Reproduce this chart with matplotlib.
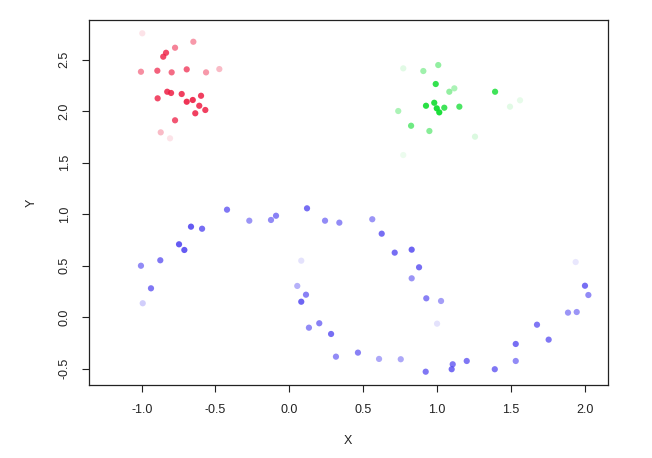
import matplotlib
matplotlib.use("Agg")
import matplotlib.pyplot as plt
import numpy as np

plt.rcParams['font.family'] = ['Liberation Sans', 'DejaVu Sans']

# Red cluster
red_x = [-0.996, -0.650, -0.774, -0.835, -0.854, -1.005, -0.894, -0.797, -0.695, -0.564,
         -0.474, -0.892, -0.827, -0.801, -0.729, -0.695, -0.654, -0.598, -0.610, -0.569,
         -0.637, -0.774, -0.871, -0.808]
red_y = [2.755, 2.673, 2.615, 2.566, 2.528, 2.382, 2.392, 2.376, 2.405, 2.376,
         2.408, 2.124, 2.188, 2.176, 2.166, 2.091, 2.108, 2.149, 2.052, 2.011,
         1.979, 1.911, 1.794, 1.736]
red_a = [0.12, 0.45, 0.55, 0.8, 0.8, 0.5, 0.7, 0.65, 0.7, 0.45,
         0.3, 0.8, 0.85, 0.85, 0.85, 0.9, 0.9, 0.85, 0.85, 0.85,
         0.85, 0.75, 0.3, 0.12]

# Green cluster
green_x = [0.772, 1.009, 0.908, 0.992, 1.084, 1.118, 0.926, 0.982, 1.016, 0.999,
           1.050, 1.152, 0.738, 0.825, 0.949, 1.258, 1.394, 1.495, 1.563, 0.772]
green_y = [2.415, 2.447, 2.389, 2.263, 2.188, 2.221, 2.052, 2.081, 1.988, 2.027,
           2.033, 2.043, 2.001, 1.858, 1.807, 1.752, 2.188, 2.043, 2.105, 1.574]
green_a = [0.12, 0.45, 0.4, 0.85, 0.45, 0.35, 0.9, 0.9, 0.95, 0.95,
           0.8, 0.75, 0.35, 0.6, 0.5, 0.15, 0.8, 0.12, 0.1, 0.08]

# Blue moons
blue_x = [-1.005, -0.937, -0.993, -0.874, -0.747, -0.711, -0.666, -0.591, -0.422, -0.271,
          -0.124, -0.090, 0.120, 0.242, 0.339, 0.081, 0.054, 0.113, 0.081, 0.133,
          0.203, 0.283, 0.316, 0.562, 0.626, 0.714, 0.829, 0.879, 0.829, 0.928,
          1.028, 1.001, 0.465, 0.608, 0.755, 0.924, 1.107, 1.100, 1.202, 1.392,
          1.534, 1.534, 1.678, 1.757, 1.888, 1.947, 2.003, 2.026, 1.940]
blue_y = [0.500, 0.281, 0.136, 0.553, 0.708, 0.653, 0.879, 0.859, 1.044, 0.937,
          0.944, 0.985, 1.057, 0.937, 0.918, 0.549, 0.304, 0.219, 0.151, -0.101,
          -0.058, -0.162, -0.382, 0.951, 0.811, 0.627, 0.656, 0.485, 0.378, 0.184,
          0.158, -0.062, -0.343, -0.404, -0.407, -0.528, -0.456, -0.504, -0.424, -0.504,
          -0.424, -0.259, -0.072, -0.217, 0.045, 0.051, 0.306, 0.216, 0.536]
blue_a = [0.6, 0.7, 0.25, 0.7, 0.85, 0.85, 0.85, 0.75, 0.7, 0.55,
          0.6, 0.65, 0.75, 0.6, 0.6, 0.15, 0.4, 0.65, 0.8, 0.6,
          0.65, 0.75, 0.6, 0.55, 0.75, 0.75, 0.8, 0.75, 0.55, 0.65,
          0.5, 0.15, 0.65, 0.45, 0.45, 0.7, 0.7, 0.75, 0.7, 0.7,
          0.6, 0.75, 0.7, 0.7, 0.55, 0.55, 0.75, 0.6, 0.12]

x_ticks = [-1.0, -0.5, 0.0, 0.5, 1.0, 1.5, 2.0]
y_ticks = [-0.5, 0.0, 0.5, 1.0, 1.5, 2.0, 2.5]

fig = plt.figure(figsize=(6.52, 4.58), dpi=100)
ax = fig.add_axes([88.7/652, 1-385/458, (608-88.7)/652, (385-20)/458])

def rgba(hexcol, alphas):
    c = np.array(matplotlib.colors.to_rgb(hexcol))
    return [(c[0], c[1], c[2], a) for a in alphas]

for xs, ys, col, al in [(red_x, red_y, '#ee1e44', red_a),
                        (green_x, green_y, '#10dd30', green_a),
                        (blue_x, blue_y, '#4a3ef0', blue_a)]:
    ax.scatter(xs, ys, s=20, c=rgba(col, al), edgecolors='none', zorder=3)

ax.set_xlim(-1.359, 2.159)
ax.set_ylim(-0.657, 2.884)
ax.set_xticks(x_ticks)
ax.set_yticks(y_ticks)
ax.set_xticklabels([f"{v:.1f}" for v in x_ticks])
ax.set_yticklabels([f"{v:.1f}" for v in y_ticks], rotation=90, va='center')
for s in ax.spines.values():
    s.set_linewidth(0.9)
    s.set_color('#222222')
ax.tick_params(direction='out', length=5, width=0.8, labelsize=9, pad=8,
               color='#222222', labelcolor='#222222')
ax.tick_params(axis='x', pad=9)
ax.set_xlabel('X', fontsize=9, labelpad=13, color='#222222')
ax.set_ylabel('Y', fontsize=9, labelpad=15, color='#222222')

fig.savefig('out.png', dpi=100)
